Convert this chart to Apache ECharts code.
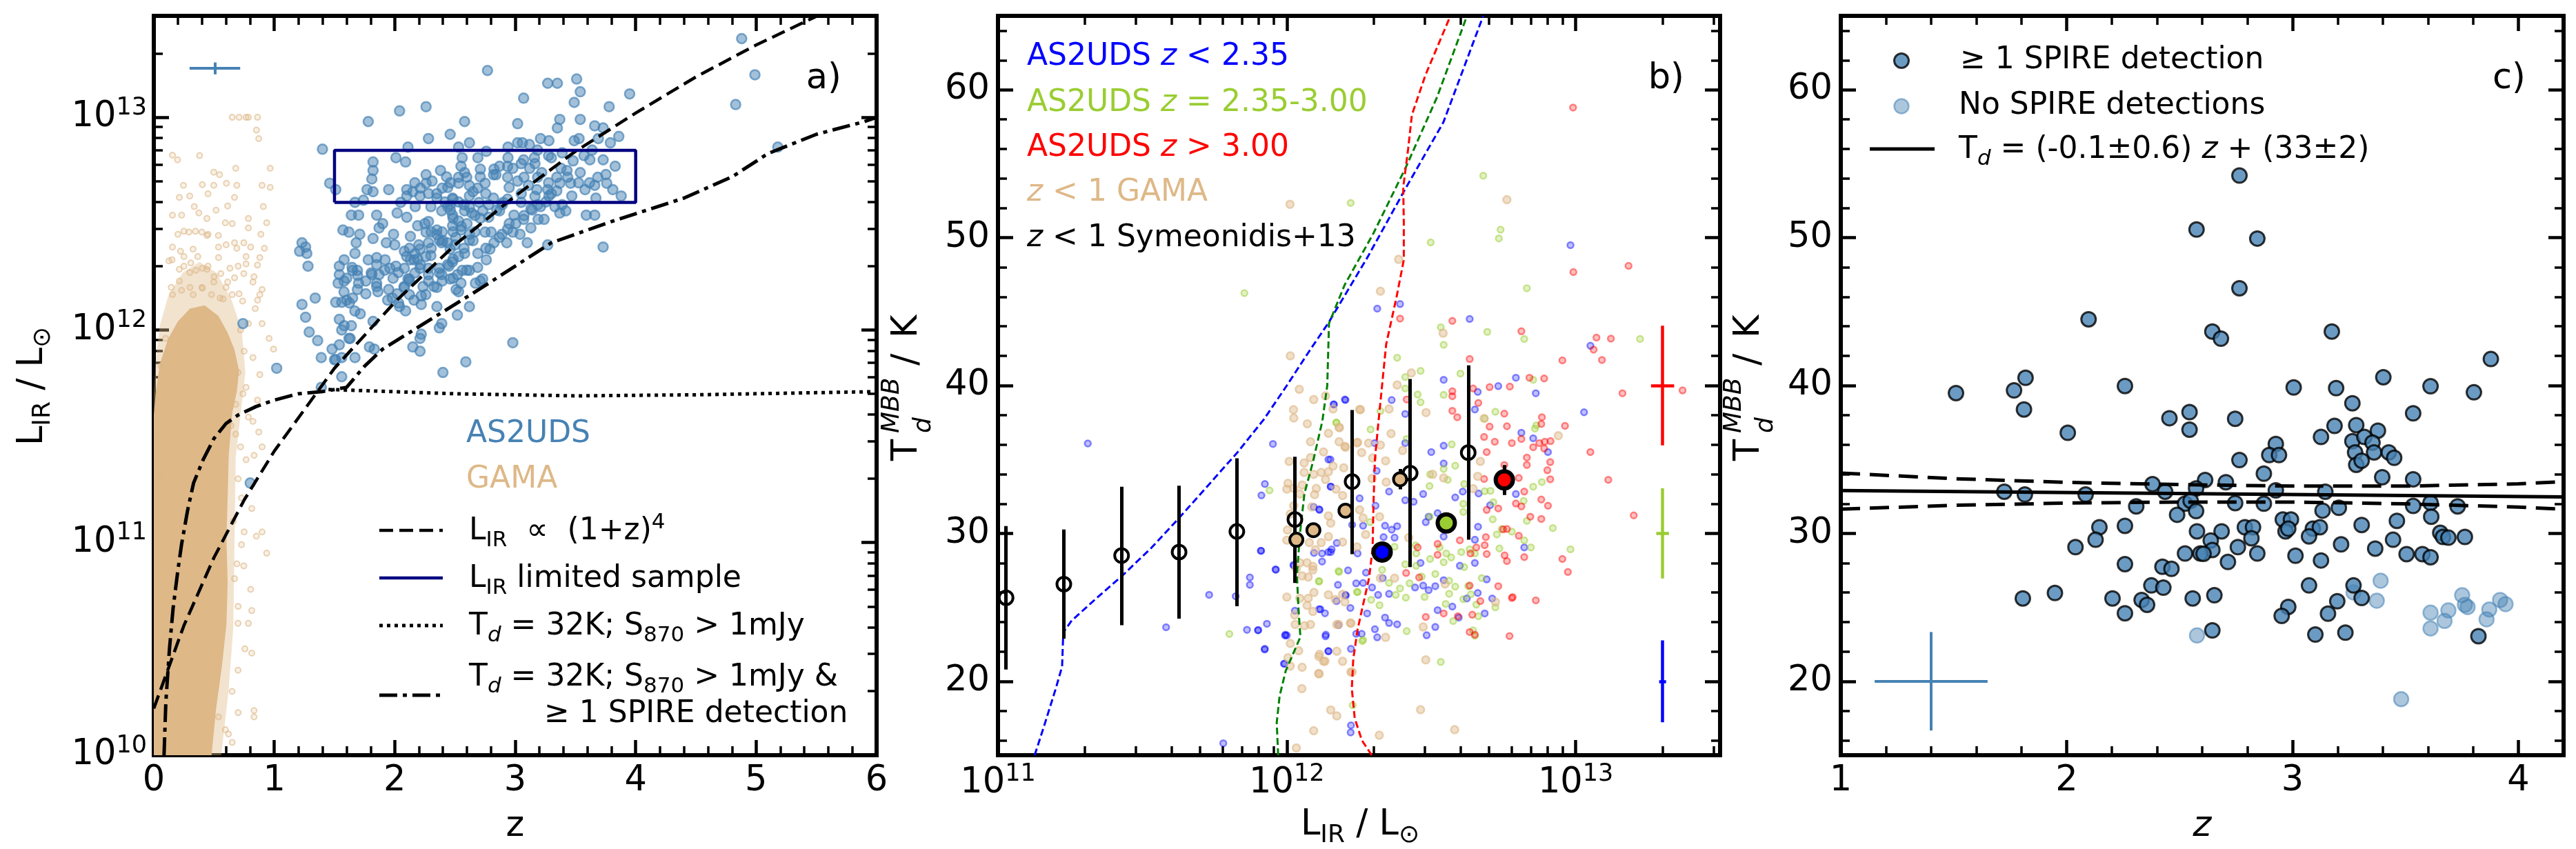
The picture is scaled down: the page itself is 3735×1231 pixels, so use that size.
<!DOCTYPE html>
<html>
<head>
<meta charset="utf-8">
<script src="https://cdn.jsdelivr.net/npm/echarts@6.0.0/dist/echarts.min.js"></script>
<style>
html, body { margin: 0; padding: 0; background: #fff; }
#chart { width: 3735px; height: 1231px; }
</style>
</head>
<body>
<div id="chart"></div>
<script>
const FONT = 'DejaVu Sans';
const STEEL = '#4682b4';
const TAN = '#deb887';
const NAVY = '#000080';
const YGREEN = '#9acd32';

// ---------------- panel a : z vs log10(L_IR) ----------------
const as2udsPts = [
[2.77,13.22],[3.27,13.16],[3.35,13.16],[3.51,13.18],[3.54,13.12],[3.49,13.07],[3.07,13.09],[3.95,13.11],[3.78,13.05],[2.26,13.05],
[2.04,13.03],[1.78,12.98],[2.58,12.98],[3.02,12.97],[3.37,12.99],[3.54,12.99],[3.35,12.95],[3.66,12.96],[3.73,12.95],[3.86,12.91],
[3.79,12.88],[2.46,12.92],[2.28,12.9],[2.62,12.88],[2.11,12.86],[1.4,12.85],[2.53,12.86],[2.94,12.86],[3.02,12.88],[3.06,12.88],
[3.21,12.9],[3.28,12.89],[3.49,12.89],[3.53,12.9],[3.69,12.9],[2.76,12.84],[2.69,12.81],[1.82,12.79],[2.01,12.81],[2.09,12.79],
[2.56,12.81],[2.55,12.77],[2.94,12.81],[3.07,12.8],[3.16,12.81],[3.3,12.81],[3.62,12.8],[3.73,12.8],[3.83,12.77],[1.82,12.75],
[1.81,12.71],[2.38,12.75],[2.26,12.73],[2.43,12.72],[2.58,12.74],[2.71,12.72],[2.84,12.73],[2.98,12.76],[3.12,12.76],[3.22,12.74],
[3.38,12.76],[3.54,12.74],[3.43,12.75],[1.46,12.69],[1.51,12.66],[1.77,12.66],[1.82,12.65],[1.95,12.66],[2.1,12.66],[2.15,12.65],
[2.26,12.69],[2.31,12.7],[2.44,12.67],[2.53,12.69],[2.65,12.65],[2.75,12.69],[2.82,12.73],[2.87,12.77],[2.95,12.67],[3.02,12.7],
[3.11,12.68],[3.18,12.66],[3.27,12.66],[3.37,12.69],[3.46,12.69],[3.58,12.66],[3.66,12.68],[3.76,12.69],[3.81,12.66],[3.88,12.63],
[3.67,12.62],[3.47,12.63],[3.28,12.63],[2.1,12.63],[2.21,12.63],[2.35,12.62],[2.48,12.62],[2.62,12.63],[2.82,12.62],[1.67,12.6],
[1.74,12.61],[2.17,12.58],[2.3,12.58],[2.44,12.58],[2.58,12.56],[2.73,12.56],[2.87,12.56],[3.13,12.57],[3.21,12.58],[3.33,12.58],
[3.42,12.56],[3.37,12.55],[3.59,12.54],[3.66,12.54],[1.64,12.54],[1.7,12.54],[1.85,12.54],[2.02,12.55],[2.1,12.53],[2.28,12.51],
[2.39,12.56],[2.48,12.54],[2.64,12.55],[2.78,12.53],[2.99,12.54],[3.07,12.52],[3.19,12.52],[3.24,12.52],[1.57,12.47],[1.62,12.46],
[1.71,12.45],[1.87,12.48],[1.82,12.43],[1.99,12.45],[2.13,12.44],[2.19,12.49],[2.26,12.46],[2.35,12.47],[2.48,12.49],[2.55,12.47],
[2.62,12.45],[2.75,12.46],[2.8,12.46],[2.89,12.45],[2.98,12.46],[3.04,12.45],[3.13,12.48],[2.93,12.41],[3.1,12.41],[3.27,12.4],
[3.73,12.39],[1.23,12.41],[1.26,12.39],[1.21,12.37],[1.27,12.36],[1.28,12.3],[1.68,12.41],[1.93,12.41],[2.08,12.37],[2.13,12.33],
[2.21,12.38],[2.28,12.41],[2.39,12.41],[2.46,12.38],[2.58,12.36],[2.69,12.36],[2.79,12.38],[2.76,12.33],[1.58,12.33],[1.67,12.36],
[1.78,12.33],[1.85,12.34],[1.92,12.33],[2.01,12.3],[2.08,12.29],[2.16,12.33],[2.21,12.29],[2.28,12.29],[2.37,12.29],[2.48,12.32],
[2.62,12.28],[1.54,12.3],[1.65,12.28],[1.69,12.28],[1.54,12.26],[1.81,12.26],[1.87,12.26],[1.96,12.29],[2.03,12.27],[2.11,12.24],
[2.28,12.26],[2.39,12.26],[2.46,12.24],[2.52,12.26],[2.56,12.28],[1.53,12.22],[1.58,12.23],[1.7,12.22],[1.85,12.22],[1.86,12.18],
[1.69,12.19],[1.76,12.17],[1.95,12.19],[2.02,12.17],[2.08,12.2],[2.12,12.24],[2.55,12.22],[2.51,12.19],[2.67,12.22],[2.71,12.23],
[2.73,12.24],[1.51,12.13],[1.56,12.13],[1.6,12.14],[1.65,12.15],[1.23,12.12],[1.34,12.15],[1.98,12.15],[2.04,12.11],[2.09,12.09],
[2.16,12.14],[2.22,12.12],[2.22,12.16],[2.35,12.11],[2.53,12.18],[2.62,12.11],[2.52,12.07],[1.26,12.06],[1.29,11.99],[1.36,11.95],
[1.54,12.05],[1.58,12.02],[1.64,12.02],[1.56,12.0],[1.82,12.04],[1.62,11.96],[1.54,11.93],[1.48,11.91],[1.5,11.86],[1.39,11.87],
[1.67,11.87],[1.56,11.87],[1.79,11.92],[1.83,11.91],[2.15,11.92],[2.21,11.9],[2.22,11.98],[2.21,11.96],[2.37,12.01],[2.39,12.03],
[2.98,11.94],[2.59,11.85],[2.4,11.8],[1.56,11.78],[1.02,11.82],[1.39,11.73],[1.63,11.96],[1.51,11.86],[4.88,13.37],[4.99,13.2],
[4.83,13.06],[5.18,12.86],[0.8,11.28],[0.74,12.03],[2.4,12.42],[2.5,12.4],[2.3,12.35],[2.45,12.3],[2.35,12.2],[2.25,12.5],
[2.6,12.5],[2.7,12.6],[2.9,12.6],[3.05,12.6],[2.2,12.4],[2.0,12.4],[1.9,12.5],[2.05,12.6],[2.95,12.5],[2.65,12.42],
[2.462,12.564],[2.484,12.525],[2.53,12.512],[2.552,12.487],[2.484,12.461],[2.507,12.435],[2.439,12.41],[2.371,12.422],[2.303,12.384],[2.258,12.345],
[2.19,12.333],[2.167,12.358],[2.122,12.384],[2.099,12.345],[2.213,12.307],[2.303,12.461],[2.349,12.448],[2.394,12.461],[2.462,12.589],[2.416,12.602],
[2.484,12.615],[2.53,12.602],[2.575,12.589],[2.62,12.577],[2.666,12.538],[2.711,12.525],[2.666,12.461],[2.62,12.422],[2.575,12.384],[2.53,12.345],
[2.484,12.333],[2.439,12.307],[2.371,12.268],[2.281,12.23],[2.235,12.204],[2.167,12.268],[2.122,12.23],[2.077,12.204],[1.986,12.243],[1.918,12.281],
[1.85,12.307],[1.805,12.268],[1.76,12.23],[1.692,12.256],[1.646,12.294],[1.601,12.243],[1.579,12.179],[1.624,12.127],[1.669,12.089],[1.714,12.076],
[1.85,12.204],[1.941,12.14],[2.032,12.127],[2.122,12.166],[2.258,12.166],[2.326,12.204],[2.394,12.23],[2.484,12.243],[2.598,12.281],[2.688,12.294],
[2.756,12.384],[2.824,12.41],[2.869,12.435],[2.937,12.474],[3.005,12.5],[3.073,12.538],[3.141,12.564],[3.186,12.589],[3.254,12.602],[3.3,12.641],
[3.345,12.654],[3.39,12.589],[3.164,12.628],[3.05,12.641],[2.937,12.615],[2.892,12.589],[2.847,12.564],[2.779,12.589],[2.756,12.641],[2.688,12.667],
[2.62,12.679],[2.598,12.718],[2.53,12.718],[2.462,12.692],[2.394,12.667],[2.349,12.641],[2.281,12.641],[2.213,12.667],[2.167,12.692],[2.937,12.718],
[3.073,12.718],[3.186,12.718],[3.277,12.692],[3.345,12.718],[3.436,12.718],[3.526,12.692],[3.617,12.692],[3.685,12.718],[3.753,12.731],[3.164,12.782],
[3.05,12.782],[2.937,12.769],[2.824,12.756],[2.711,12.756],[3.118,12.872],[3.186,12.846],[3.277,12.82],[3.39,12.833],[3.481,12.795],[3.571,12.82],
[3.639,12.846]
];
const gamaFringe = [
[0.651,13.0],[0.708,13.0],[0.766,13.0],[0.785,13.0],[0.861,13.0],[0.852,12.94],[0.871,12.9],[0.197,12.8],[0.38,12.82],[0.966,12.76],
[0.68,12.76],[0.546,12.73],[0.246,12.68],[0.498,12.68],[0.603,12.69],[0.689,12.68],[0.899,12.68],[0.966,12.67],[0.298,12.63],[0.45,12.64],
[0.909,12.58],[0.336,12.58],[0.155,12.54],[0.231,12.54],[0.374,12.55],[0.651,12.5],[0.785,12.48],[0.889,12.45],[0.292,12.46],[0.399,12.46],
[0.537,12.39],[0.67,12.41],[0.155,12.39],[0.222,12.37],[0.326,12.38],[0.747,12.41],[0.804,12.39],[0.88,12.34],[0.151,12.33],[0.537,12.34],
[0.632,12.29],[0.766,12.31],[0.832,12.25],[0.298,12.27],[0.403,12.29],[0.212,12.23],[0.145,12.2],[0.899,12.19],[0.861,12.14],[0.708,12.17],
[0.994,11.91],[0.957,11.96],[0.098,11.96],[0.059,11.83],[0.861,11.67],[0.823,11.57],[0.871,11.52],[0.899,11.45],[0.832,11.41],[0.766,11.39],
[0.813,11.16],[0.852,11.03],[0.899,11.05],[0.937,10.95],[0.747,10.89],[0.804,10.78],[0.813,10.68],[0.785,10.62],[0.699,10.62],[0.813,10.48],
[0.756,10.5],[0.699,10.4],[0.832,10.21],[0.832,10.18],[0.651,10.06],[0.594,10.12],[0.537,10.18],[0.67,10.83],[0.728,10.99],[0.728,11.21],
[0.68,11.51],[0.785,11.59],[0.766,11.73],[0.88,11.79],[0.823,11.87],[0.899,12.03],[0.842,12.1],[0.785,12.03],[0.04,11.51],[0.05,11.31],
[0.5,12.25],[0.45,12.3],[0.35,12.28],[0.6,12.2],[0.55,12.15],[0.25,12.3],[0.4,12.2],[0.3,12.2],[0.7,12.3],[0.45,12.45],
[0.6,12.4],[0.2,12.45],[0.72,12.0],[0.75,11.9],[0.7,11.8],
[0.126,12.325],[0.212,12.285],[0.25,12.345],[0.307,12.315],[0.365,12.345],[0.441,12.285],[0.498,12.225],[0.556,12.265],[0.613,12.225],[0.67,12.245],
[0.747,12.265],[0.823,12.225],[0.88,12.166],[0.155,12.166],[0.231,12.186],[0.327,12.166],[0.403,12.196],[0.479,12.166],[0.575,12.146],[0.651,12.166],
[0.737,12.136],[0.536,12.444],[0.594,12.504],[0.441,12.444],[0.346,12.464],[0.25,12.464],[0.689,12.384],[0.766,12.345],[0.861,12.305],[0.918,12.384],
[0.613,12.583],[0.517,12.563],[0.441,12.524],[0.785,12.524],[0.67,12.623],[0.212,12.623],[0.403,12.683],[0.498,12.742],[0.155,12.822],[0.937,12.504],
[0.65,10.3],[0.7,10.7],[0.66,11.1],[0.7,11.3],[0.72,11.45],[0.68,11.65],[0.74,11.7],[0.62,10.1],[0.69,10.9],[0.75,11.05],
[0.64,11.55],[0.7,10.2]
];
// outline of the saturated GAMA cloud and of its halo
const gamaCore = [
[0,10],[0.479,10],[0.517,10.218],[0.565,10.417],[0.603,10.615],[0.613,10.814],[0.603,11.013],[0.613,11.212],[0.622,11.41],[0.651,11.609],
[0.689,11.709],[0.708,11.808],[0.67,11.907],[0.613,11.987],[0.536,12.066],[0.422,12.116],[0.3,12.1],[0.2,12.04],[0.12,11.96],[0.05,11.84],
[0.015,11.7],[0,11.6]
];
const gamaHaze = [
[0,10],[0.56,10],[0.62,10.3],[0.66,10.6],[0.67,11.0],[0.68,11.4],[0.72,11.6],[0.76,11.8],[0.73,12.0],[0.64,12.15],
[0.52,12.27],[0.38,12.32],[0.24,12.27],[0.12,12.16],[0.05,12.02],[0.015,11.85],[0,11.7]
];
const evolZ    = [0, 0.25, 0.5, 0.75, 1, 1.5, 2, 2.5, 3, 3.5, 4, 4.5, 5, 5.5, 5.6];
const evolLogL = [10.22, 10.61, 10.93, 11.2, 11.43, 11.82, 12.13, 12.4, 12.63, 12.84, 13.02, 13.19, 13.34, 13.475, 13.5];
const spireZ    = [0.085, 0.1, 0.13, 0.16, 0.2, 0.23, 0.28, 0.33, 0.41, 0.5, 0.6, 0.7, 0.85, 1.0, 1.2, 1.4, 1.6, 1.75, 1.9, 2.3, 2.67, 3.0, 3.3, 3.8, 4.4, 4.8, 5.1, 5.5, 5.9, 6.0];
const spireLogL = [10.0, 10.25, 10.5, 10.69, 10.87, 10.99, 11.15, 11.28, 11.39, 11.49, 11.56, 11.6, 11.64, 11.67, 11.7, 11.71, 11.73, 11.83, 11.91, 12.05, 12.18, 12.3, 12.41, 12.51, 12.62, 12.72, 12.83, 12.92, 12.98, 13.0];
const flatZ    = [1.45, 2.5, 3.5, 4.5, 5.5, 6.0];
const flatLogL = [11.72, 11.70, 11.69, 11.695, 11.705, 11.71];
const boxZ    = [1.5, 4.0];
const boxLogL = [12.6, 12.845];
const crossA  = [0.507, 13.23, 0.21, 0.028];   // z, logL, dz, dlogL

// ---------------- panel b : log10(L_IR) vs Td ----------------
const bLowPts = [
[12.313,45.2],[12.392,45.51],[12.633,44.5],[13.051,42.69],[13.029,38.19],[12.543,40.39],[12.732,39.96],[12.793,40.53],[12.862,39.48],[12.661,39.57],
[12.651,38.38],[12.363,39.02],[12.203,39.02],[12.162,38.73],[11.952,36.05],[11.924,33.34],[11.912,32.57],[12.151,35.0],[12.152,33.16],[12.113,31.59],
[12.304,36.11],[12.311,34.23],[12.41,38.08],[12.41,36.11],[12.543,35.93],[12.5,35.5],[12.543,34.73],[12.812,36.81],[12.853,36.43],[12.904,35.5],
[12.664,32.7],[12.609,32.83],[12.583,32.43],[12.793,32.66],[12.704,31.91],[12.472,32.66],[12.439,32.14],[12.41,32.24],[12.354,32.83],[12.307,31.87],
[12.252,32.37],[12.264,30.52],[12.226,30.58],[12.34,30.52],[12.363,30.25],[12.382,30.49],[12.335,29.75],[12.373,29.71],[12.481,30.76],[12.522,31.37],
[12.491,31.13],[12.543,29.79],[12.662,30.45],[12.651,29.57],[12.822,29.05],[12.155,28.92],[12.122,28.64],[12.094,28.68],[12.245,28.64],[11.91,28.83],
[11.962,27.54],[11.872,27.02],[11.872,26.52],[12.023,27.87],[12.212,27.5],[12.274,27.35],[12.203,25.84],[12.24,26.62],[12.264,26.65],[12.295,26.34],
[12.316,25.84],[12.332,26.98],[12.354,25.91],[12.444,26.34],[12.463,28.0],[12.472,26.47],[12.491,26.16],[12.514,26.43],[12.543,26.84],[12.599,27.81],
[12.651,28.0],[12.692,26.89],[12.661,25.97],[12.623,25.6],[12.711,25.6],[12.685,24.59],[12.595,24.31],[12.573,25.05],[12.522,24.81],[12.514,23.67],
[12.484,23.11],[12.382,23.85],[12.354,23.94],[12.34,24.31],[12.305,23.52],[12.313,22.97],[12.259,23.21],[12.24,23.21],[12.222,22.19],[12.22,24.96],
[12.278,24.59],[12.172,25.42],[12.135,23.15],[12.144,22.04],[11.995,23.15],[11.931,23.89],[11.9,23.44],[11.862,23.48],[11.924,22.19],[11.99,21.18],
[12.028,24.77],[12.116,24.87],[11.311,36.08],[11.731,25.85],[11.823,25.75],[11.582,23.65],[11.901,23.47],[11.994,23.09],[11.923,22.15],[11.992,21.19],
[11.78,15.81],[12.024,27.82],[12.112,31.63],[12.152,33.17],[12.144,35.0],[12.163,38.72],[12.201,39.05],[12.144,28.74],[12.152,28.74],[12.122,28.1],
[12.177,26.52],[12.132,24.6],[12.112,24.88],[12.134,23.04],[12.144,22.03],[12.179,23.79],[12.222,17.02],[12.173,29.35],[12.093,31.79],[12.204,25.8],
[11.911,28.82],[11.961,27.57],[12.982,49.49],[12.221,16.54],[12.0,23.1]
];
const bMidPts = [
[11.853,46.25],[12.831,46.58],[12.533,43.94],[12.543,42.75],[12.694,43.63],[12.822,43.15],[13.223,43.15],[12.382,41.88],[12.463,40.99],[12.601,40.81],
[12.41,40.57],[12.853,40.39],[12.543,39.37],[12.463,38.87],[12.453,39.39],[12.324,38.27],[12.172,37.49],[12.29,37.03],[12.41,39.8],[12.722,38.23],
[12.685,37.77],[12.864,37.31],[12.859,37.09],[12.415,36.39],[12.571,36.02],[12.583,34.58],[12.543,34.36],[12.496,33.99],[12.494,33.2],[12.557,33.62],
[12.614,33.34],[12.685,32.85],[12.705,32.88],[12.82,32.2],[12.853,33.16],[12.883,33.47],[12.715,32.11],[12.611,32.0],[12.611,31.45],[12.713,30.95],
[12.744,30.3],[12.921,30.36],[12.982,28.92],[12.822,29.53],[12.845,29.05],[12.779,30.12],[12.727,29.93],[12.604,28.74],[12.651,28.64],[12.633,28.92],
[12.569,28.37],[12.552,28.64],[12.529,29.05],[12.496,28.27],[12.448,28.64],[12.448,27.81],[12.41,27.91],[12.425,26.62],[12.467,27.08],[12.514,27.26],
[12.562,26.8],[12.583,26.4],[12.628,26.43],[12.675,26.98],[12.543,28.05],[12.614,27.72],[12.637,25.88],[12.611,25.55],[12.722,25.0],[12.656,25.18],
[12.562,25.92],[12.477,25.7],[12.412,25.66],[12.377,25.84],[12.392,26.28],[12.354,26.65],[12.33,27.54],[12.344,28.61],[12.55,25.23],[12.576,24.07],
[12.663,24.4],[12.645,23.44],[12.651,23.08],[12.533,21.31],[12.415,23.39],[12.321,25.14],[12.264,22.8],[12.292,25.51],[12.245,26.03],[12.179,27.45],
[12.111,26.76],[12.446,29.19],[12.373,29.1],[12.288,30.76],[12.495,31.13],[12.736,28.98],[12.831,30.85],[11.94,32.91],[11.801,23.2],[12.181,27.4],
[12.243,26.04],[12.261,22.72],[12.228,18.38],[12.112,26.76],[12.171,37.49],[12.68,54.19],[12.221,52.35],[12.74,50.54],[12.734,49.95],[12.498,49.68]
];
const bHighPts = [
[12.992,47.67],[13.183,48.09],[12.392,44.53],[12.573,44.37],[12.812,43.67],[13.072,43.24],[13.122,43.17],[13.062,42.43],[13.091,41.73],[12.954,41.7],
[12.633,41.79],[12.84,40.53],[12.891,40.48],[12.772,39.93],[12.702,39.89],[12.573,39.61],[12.573,39.28],[12.645,39.8],[12.663,38.82],[13.162,39.48],
[12.415,39.06],[12.573,38.29],[12.59,37.86],[12.753,38.1],[12.883,37.86],[12.881,37.4],[12.963,37.27],[12.702,37.22],[12.762,37.25],[12.812,36.39],
[12.683,36.52],[12.72,36.2],[12.779,36.11],[12.874,36.11],[12.893,36.2],[12.913,36.24],[12.853,35.83],[12.891,35.74],[12.831,35.13],[12.912,34.82],
[12.831,34.63],[12.902,34.27],[13.051,35.5],[13.113,33.62],[12.912,33.66],[12.803,33.75],[12.753,34.63],[12.692,35.5],[12.683,33.68],[12.822,32.83],
[12.793,32.02],[12.812,31.83],[12.881,32.29],[12.904,31.87],[12.692,31.59],[12.732,31.69],[12.843,31.13],[12.881,30.98],[13.201,31.22],[12.749,30.27],
[12.762,30.3],[12.803,29.84],[12.689,29.75],[12.685,29.2],[12.656,29.05],[12.599,29.53],[12.522,29.29],[12.522,28.55],[12.453,29.05],[12.636,28.64],
[12.692,28.61],[12.754,28.51],[12.822,28.4],[12.762,28.13],[12.954,28.27],[12.973,27.39],[12.413,27.32],[12.458,27.02],[12.732,26.43],[12.633,26.47],
[12.782,25.69],[12.862,25.47],[12.67,25.42],[12.481,24.35],[12.543,24.59],[12.592,24.4],[12.642,24.5],[12.633,23.33],[12.651,23.15],[12.771,23.06],
[12.991,58.8],[13.37,39.67],[12.779,25.63]
];
const bGamaPts = [
[12.043,39.74],[12.093,39.05],[12.134,39.3],[12.023,38.37],[12.024,37.81],[12.071,37.41],[12.16,38.42],[12.181,37.17],[12.144,36.77],[12.082,36.2],
[12.127,35.51],[12.181,36.2],[12.201,35.88],[12.243,36.12],[12.255,38.37],[12.008,34.87],[12.06,34.76],[12.082,35.13],[12.06,34.12],[12.093,34.0],
[12.119,34.12],[12.144,34.17],[12.134,33.64],[12.16,34.55],[12.197,34.44],[12.004,33.39],[12.0,32.99],[12.024,33.04],[12.053,33.27],[12.102,33.04],
[12.045,32.67],[12.096,32.62],[12.17,32.99],[12.193,32.56],[12.024,31.87],[12.086,31.79],[12.144,31.18],[12.152,30.7],[12.012,31.31],[12.002,30.23],
[12.0,29.54],[12.078,29.38],[12.099,28.9],[12.119,29.38],[12.144,29.78],[12.193,29.41],[12.243,29.09],[12.07,28.01],[12.09,27.77],[12.045,28.01],
[12.033,27.61],[12.053,27.13],[12.074,27.05],[12.09,27.53],[12.0,25.69],[12.045,25.61],[12.074,25.61],[12.094,26.01],[12.144,25.85],[12.168,25.53],
[12.201,25.37],[12.07,25.13],[12.027,24.48],[12.09,24.72],[12.029,23.84],[12.082,23.84],[12.061,23.76],[12.173,23.84],[12.222,23.92],[12.012,22.56],
[12.041,22.07],[12.004,21.59],[12.012,21.03],[12.053,20.95],[12.111,21.67],[12.127,21.35],[12.173,22.03],[12.193,21.35],[12.226,20.63],[12.112,20.5],
[12.052,19.5],[12.152,18.06],[12.173,17.66],[12.093,16.66],[12.033,15.49],[12.324,46.38],[12.012,42.01],[12.252,38.38],[12.354,38.41],[12.382,40.04],
[12.431,40.85],[12.482,38.17],[12.541,43.54],[12.683,37.77],[12.94,36.61],[12.361,36.75],[12.182,37.16],[12.203,35.83],[12.245,36.16],[12.283,36.11],
[12.324,35.98],[12.401,35.61],[12.342,34.91],[12.297,35.1],[12.259,35.46],[12.344,33.47],[12.295,33.71],[12.264,31.04],[12.252,31.59],[12.273,29.93],
[12.321,31.13],[12.422,29.71],[12.543,33.75],[12.505,33.99],[12.645,33.03],[12.67,34.87],[12.661,33.86],[12.548,26.58],[12.472,23.67],[12.481,21.45],
[12.722,25.36],[12.373,26.98],[12.342,22.97],[12.324,26.98],[12.193,25.88],[12.22,23.94],[12.179,23.85],[12.222,20.62],[12.113,21.82],[12.132,21.36],
[12.11,20.53],[12.463,18.08],[12.581,16.73],[12.32,16.35],[12.011,52.26],[12.762,52.57],[12.387,48.53]
];
const blueLim = [[11.127,15],[11.16,17],[11.2,19.5],[11.222,21],[11.226,23.3],[11.255,24.1],[11.34,25.6],[11.428,27.1],[11.53,29],[11.625,31],
[11.73,33.3],[11.83,35.5],[11.92,37.7],[12.0,40],[12.07,42.1],[12.146,44.3],[12.28,48.7],[12.413,53.4],[12.542,57.8],[12.68,65]];
const greenLim = [[11.97,15],[11.965,17.2],[11.975,19.0],[11.996,20.7],[12.047,23.0],[12.04,25],[12.035,27.2],[12.045,29.9],[12.061,32.7],[12.09,34.8],
[12.123,37.6],[12.14,40],[12.146,44.2],[12.2,46.8],[12.3,50.3],[12.413,54.8],[12.52,59.5],[12.62,64.8]];
const redLim = [[12.294,15],[12.26,16],[12.235,17.5],[12.225,19.5],[12.23,21.5],[12.245,23.5],[12.262,25],[12.285,27],[12.297,29],[12.3,32],
[12.305,35],[12.316,37.3],[12.344,42.8],[12.38,46],[12.405,48.5],[12.405,51],[12.403,53.4],[12.42,56],[12.433,58.3],[12.48,61],[12.562,64.8]];
const symLogL = [11.028, 11.228, 11.428, 11.627, 11.827, 12.028, 12.226, 12.427, 12.628];
const symT    = [25.65, 26.57, 28.5, 28.74, 30.13, 30.94, 33.5, 34.08, 35.46];
const symTlo  = [20.8, 22.88, 23.79, 24.24, 25.08, 26.65, 28.6, 27.72, 29.57];
const symThi  = [30.5, 30.26, 33.15, 33.23, 35.08, 35.19, 38.35, 40.44, 41.36];
const gamaMedLogL = [12.033, 12.092, 12.203, 12.392];
const gamaMedT    = [29.57, 30.22, 31.54, 33.66];
const medLogL   = [12.33, 12.552, 12.753];
const medT      = [28.74, 30.71, 33.62];
const medColors = ['#0000ff', YGREEN, '#ff0000'];
const medRedErr = [32.6, 34.63];
const gamaMedErr = [32.98, 34.36];
const errLogL   = 13.301;
const errT      = [40, 30, 20];
const errDT     = [4.05, 3.05, 2.77];
const errDL     = [0.04, 0.022, 0.012];
const errColors = ['#ff0000', YGREEN, '#0000ff'];

// ---------------- panel c : z vs Td ----------------
const spireDet = [
[2.765,54.2],[2.575,50.55],[2.844,49.94],[2.765,46.58],[2.097,44.48],[2.645,43.65],[2.683,43.17],[3.174,43.65],[3.878,41.79],[1.818,40.52],
[1.51,39.49],[1.767,39.67],[2.258,39.97],[3.005,39.87],[3.193,39.82],[3.402,40.56],[3.611,39.95],[3.803,39.54],[1.811,38.38],[3.265,38.8],
[2.544,38.2],[2.455,37.79],[2.746,37.75],[3.534,38.12],[2.005,36.8],[2.544,37.02],[3.186,37.27],[3.282,37.32],[3.126,36.52],[3.378,36.95],
[3.265,36.23],[3.318,36.52],[3.354,36.14],[2.926,36.05],[3.277,35.48],[3.361,35.48],[3.426,35.48],[3.45,35.11],[2.897,35.3],[2.94,35.3],
[2.765,34.96],[3.282,34.64],[3.306,34.92],[2.873,34.04],[3.397,33.8],[3.534,33.66],[2.38,33.33],[2.613,33.61],[2.705,33.46],[2.573,33.04],
[2.436,32.82],[1.724,32.82],[1.815,32.63],[2.084,32.63],[2.926,32.91],[3.145,32.82],[2.308,31.83],[2.524,32.01],[2.549,32.2],[2.573,31.51],
[2.489,31.26],[2.746,32.05],[2.873,32.01],[3.133,31.54],[3.205,31.73],[3.534,31.86],[3.611,32.07],[3.731,31.83],[3.614,31.13],[2.957,30.94],
[2.993,30.94],[3.462,30.85],[3.306,30.57],[2.145,30.42],[2.258,30.51],[2.789,30.42],[2.825,30.42],[2.969,30.14],[2.981,30.32],[3.09,30.32],
[3.121,30.42],[3.073,29.8],[2.577,30.14],[2.686,30.14],[3.654,30.04],[3.666,29.76],[3.69,29.71],[3.763,29.76],[2.128,29.57],[2.039,29.07],
[2.638,29.52],[2.818,29.67],[3.445,29.57],[3.215,29.26],[2.758,29.07],[2.645,28.88],[3.366,28.97],[2.524,28.64],[2.592,28.64],[2.606,28.62],
[2.844,28.64],[3.013,28.49],[3.505,28.6],[3.575,28.6],[3.611,28.39],[2.714,28.07],[3.126,28.17],[2.258,27.92],[2.424,27.74],[2.464,27.6],
[3.073,26.48],[3.27,26.48],[2.375,26.48],[2.428,26.33],[1.948,25.97],[1.806,25.6],[2.203,25.6],[2.332,25.5],[2.356,25.17],[2.558,25.6],
[2.654,25.82],[3.306,25.63],[3.198,25.41],[2.981,25.03],[2.952,24.42],[3.157,24.57],[2.258,24.6],[2.645,23.44],[3.101,23.16],[3.234,23.29],
[3.823,23.05]
];
const spireNon = [
[3.39,26.8],[3.373,25.45],[3.27,26.01],[3.611,24.64],[3.69,24.79],[3.673,24.08],[3.611,23.57],[3.751,25.82],[3.763,25.17],[3.775,25.02],
[3.871,24.85],[3.859,24.19],[3.919,25.5],[3.943,25.22],[2.577,23.1],[3.481,18.79]
];
const fitZ   = [1, 4.2];
const fitT   = [32.9, 32.47];
const bandZ  = [1, 1.5, 2, 2.5, 3, 3.5, 4, 4.2];
const bandHi = [34.08, 33.7, 33.45, 33.3, 33.2, 33.2, 33.35, 33.5];
const bandLo = [31.64, 31.9, 32.05, 32.12, 32.12, 32.0, 31.78, 31.64];
const crossC = [1.40, 20, 0.25, 3.33];   // z, Td, dz, dTd

// ---------------- axis ticks ----------------
const zTicksA   = [0, 1, 2, 3, 4, 5, 6];
const lirTicksA = [1e10, 1e11, 1e12, 1e13];
const lirTicksB = [1e11, 1e12, 1e13];
const tdTicks   = [20, 30, 40, 50, 60];
const zTicksC   = [1, 2, 3, 4];

function linMinors(lo, hi, step, majors) {
  const out = [];
  for (let i = Math.ceil(lo / step - 1e-9); i * step <= hi + 1e-9; i++) {
    const v = +(i * step).toFixed(4);
    if (v > lo && v < hi && majors.indexOf(v) < 0) out.push(v);
  }
  return out;
}
function logMinors(e0, e1, max) {
  const out = [];
  for (let e = e0; e <= e1; e++) for (let m = 2; m <= 9; m++) {
    const v = m * Math.pow(10, e);
    if (v < max) out.push(v);
  }
  return out;
}

const pw = v => Math.pow(10, v);
const toLogY = p => [p[0], pw(p[1])];
const toLogX = p => [pw(p[0]), p[1]];

const linLabel = { formatter: v => String(v), margin: 12 };
const logRich = {
  b: { fontSize: 51, fontFamily: FONT, color: '#000', lineHeight: 62 },
  s: { fontSize: 35, fontFamily: FONT, color: '#000', lineHeight: 36, verticalAlign: 'top' }
};
const logLabel = { formatter: v => '{b|10}{s|' + Math.round(Math.log10(v)) + '}', rich: logRich, margin: 10 };

function oneAxis(grid, pos, type, min, max, ticks, len, width, spine, label) {
  const a = {
    type: type, gridIndex: grid, position: pos, min: min, max: max,
    axisLine: { show: spine, onZero: false, lineStyle: { color: '#000', width: 6, cap: 'square' } },
    axisTick: { show: true, inside: true, length: len, customValues: ticks, lineStyle: { color: '#000', width: width } },
    axisLabel: { show: false },
    splitLine: { show: false },
    minorTick: { show: false },
    axisPointer: { show: false }
  };
  if (type === 'log') a.logBase = 10;
  if (label) {
    a.axisLabel = Object.assign({ show: true, customValues: ticks, color: '#000', fontFamily: FONT, fontSize: 51 }, label);
  }
  return a;
}
function axisSet(grid, pMain, pMirror, type, min, max, majors, minors, label) {
  return [
    oneAxis(grid, pMain, type, min, max, majors, 22, 4.5, true, label),
    oneAxis(grid, pMain, type, min, max, minors, 13, 3.5, false, null),
    oneAxis(grid, pMirror, type, min, max, majors, 22, 4.5, true, null),
    oneAxis(grid, pMirror, type, min, max, minors, 13, 3.5, false, null)
  ];
}

const xAxes = [].concat(
  axisSet(0, 'bottom', 'top', 'value', 0, 6, zTicksA, linMinors(0, 6, 0.2, zTicksA), linLabel),
  axisSet(1, 'bottom', 'top', 'log', 1e11, pw(13.5), lirTicksB, logMinors(11, 13, pw(13.5)), logLabel),
  axisSet(2, 'bottom', 'top', 'value', 1, 4.2, zTicksC, linMinors(1, 4.2, 0.2, zTicksC), linLabel)
);
const yAxes = [].concat(
  axisSet(0, 'left', 'right', 'log', 1e10, 3e13, lirTicksA, logMinors(10, 13, 3e13), logLabel),
  axisSet(1, 'left', 'right', 'value', 15, 65, tdTicks, linMinors(15, 65, 2, tdTicks), linLabel),
  axisSet(2, 'left', 'right', 'value', 15, 65, tdTicks, linMinors(15, 65, 2, tdTicks), linLabel)
);

// ---------------- series helpers ----------------
function scatter(ax, data, size, fill, border, bw, extra) {
  return Object.assign({
    type: 'scatter', xAxisIndex: ax, yAxisIndex: ax, data: data, symbol: 'circle', symbolSize: size,
    itemStyle: { color: fill, borderColor: border, borderWidth: bw, opacity: 1 },
    emphasis: { disabled: true }, silent: true
  }, extra || {});
}
function curve(ax, data, color, width, dash, extra) {
  return Object.assign({
    type: 'line', xAxisIndex: ax, yAxisIndex: ax, data: data, showSymbol: false, symbol: 'none',
    lineStyle: { color: color, width: width, type: dash || 'solid', cap: 'butt' },
    emphasis: { disabled: true }, silent: true, z: 4
  }, extra || {});
}
function segs(ax, items, width, z) {
  return {
    type: 'lines', coordinateSystem: 'cartesian2d', xAxisIndex: ax, yAxisIndex: ax,
    data: items.map(it => ({ coords: it.c, lineStyle: { color: it.color, width: width, opacity: 1 } })),
    lineStyle: { width: width, opacity: 1, curveness: 0 }, silent: true, z: z || 4
  };
}
function polygon(ax, verts, color) {
  return {
    type: 'custom', xAxisIndex: ax, yAxisIndex: ax, clip: true, silent: true, z: 1,
    data: [toLogY(verts[0])],
    renderItem: (params, api) => ({
      type: 'polygon',
      shape: { points: verts.map(v => api.coord([v[0], pw(v[1])])) },
      style: { fill: color }
    })
  };
}

const series = [];
// panel a  (axes index 0)
series.push(polygon(0, gamaHaze, 'rgba(222,184,135,0.4)'));
series.push(polygon(0, gamaCore, TAN));
series.push(scatter(0, gamaFringe.map(toLogY), 8, 'rgba(222,184,135,0.2)', 'rgba(222,184,135,0.6)', 2, { z: 2 }));
series.push(scatter(0, as2udsPts.map(toLogY), 14, 'rgba(70,130,180,0.5)', 'rgba(70,130,180,0.68)', 2.5, { z: 3 }));
series.push(curve(0, evolZ.map((z, i) => [z, pw(evolLogL[i])]), '#000', 4.5, [20, 9]));
series.push(curve(0, flatZ.map((z, i) => [z, pw(flatLogL[i])]), '#000', 5, [5, 6]));
series.push(curve(0, spireZ.map((z, i) => [z, pw(spireLogL[i])]), '#000', 5, [26, 8, 6, 8]));
series.push(curve(0, [[boxZ[0], pw(boxLogL[0])], [boxZ[1], pw(boxLogL[0])], [boxZ[1], pw(boxLogL[1])], [boxZ[0], pw(boxLogL[1])], [boxZ[0], pw(boxLogL[0])]], NAVY, 4.5, 'solid'));
series.push(segs(0, [
  { c: [[crossA[0] - crossA[2], pw(crossA[1])], [crossA[0] + crossA[2], pw(crossA[1])]], color: STEEL },
  { c: [[crossA[0], pw(crossA[1] - crossA[3])], [crossA[0], pw(crossA[1] + crossA[3])]], color: STEEL }
], 4));

// panel b  (axes index 4)
series.push(scatter(4, bLowPts.map(toLogX), 9, 'rgba(0,0,255,0.25)', 'rgba(0,0,255,0.45)', 2.5, { z: 2 }));
series.push(scatter(4, bMidPts.map(toLogX), 9, 'rgba(154,205,50,0.28)', 'rgba(154,205,50,0.5)', 2.5, { z: 2 }));
series.push(scatter(4, bHighPts.map(toLogX), 9, 'rgba(255,0,0,0.25)', 'rgba(255,0,0,0.45)', 2.5, { z: 2 }));
series.push(scatter(4, bGamaPts.map(toLogX), 11, 'rgba(222,184,135,0.45)', 'rgba(222,184,135,0.6)', 2.5, { z: 2 }));
series.push(curve(4, blueLim.map(toLogX), '#0000ff', 3, [10, 5]));
series.push(curve(4, greenLim.map(toLogX), '#008000', 3, [10, 5]));
series.push(curve(4, redLim.map(toLogX), '#ff0000', 3, [10, 5]));
const bBars = symLogL.map((l, i) => ({ c: [[pw(l), symTlo[i]], [pw(l), symThi[i]]], color: '#000' }));
bBars.push({ c: [[pw(gamaMedLogL[3]), gamaMedErr[0]], [pw(gamaMedLogL[3]), gamaMedErr[1]]], color: '#000' });
bBars.push({ c: [[pw(medLogL[2]), medRedErr[0]], [pw(medLogL[2]), medRedErr[1]]], color: '#000' });
series.push(segs(4, bBars, 5, 5));
series.push(scatter(4, symLogL.map((l, i) => [pw(l), symT[i]]), 20, 'rgba(0,0,0,0)', '#000', 4, { z: 6 }));
series.push(scatter(4, gamaMedLogL.map((l, i) => [pw(l), gamaMedT[i]]), 19, TAN, '#000', 4, { z: 6 }));
medLogL.forEach((l, i) => series.push(scatter(4, [[pw(l), medT[i]]], 25, medColors[i], '#000', 6, { z: 7 })));
const bCross = [];
errT.forEach((t, i) => {
  bCross.push({ c: [[pw(errLogL - errDL[i]), t], [pw(errLogL + errDL[i]), t]], color: errColors[i] });
  bCross.push({ c: [[pw(errLogL), t - errDT[i]], [pw(errLogL), t + errDT[i]]], color: errColors[i] });
});
series.push(segs(4, bCross, 4.5, 5));

// panel c  (axes index 8)
series.push(scatter(8, spireNon, 21, 'rgba(70,130,180,0.45)', 'rgba(70,130,180,0.55)', 2.5, { z: 2 }));
series.push(scatter(8, spireDet, 21, 'rgba(70,130,180,0.8)', 'rgba(0,0,0,0.8)', 3, { z: 3 }));
series.push(curve(8, fitZ.map((z, i) => [z, fitT[i]]), '#000', 5, 'solid'));
series.push(curve(8, bandZ.map((z, i) => [z, bandHi[i]]), '#000', 5, [28, 14]));
series.push(curve(8, bandZ.map((z, i) => [z, bandLo[i]]), '#000', 5, [28, 14]));
series.push(segs(8, [
  { c: [[crossC[0] - crossC[2], crossC[1]], [crossC[0] + crossC[2], crossC[1]]], color: STEEL },
  { c: [[crossC[0], crossC[1] - crossC[3]], [crossC[0], crossC[1] + crossC[3]]], color: STEEL }
], 4));

// ---------------- texts, legends ----------------
function richSet(size, color) {
  const base = { fontSize: size, fontFamily: FONT, fill: color, lineHeight: Math.round(size * 1.3) };
  const small = { fontSize: Math.round(size * 0.7), fontFamily: FONT, fill: color, lineHeight: Math.round(size * 0.65) };
  return {
    n: base,
    i: Object.assign({}, base, { fontStyle: 'italic' }),
    sub: Object.assign({}, small, { verticalAlign: 'bottom' }),
    subi: Object.assign({}, small, { verticalAlign: 'bottom', fontStyle: 'italic' }),
    sup: Object.assign({}, small, { verticalAlign: 'top' })
  };
}
function label(x, y, text, size, color, align, rotation) {
  return {
    type: 'text', x: x, y: y, rotation: rotation || 0, silent: true, z: 100,
    style: { text: text, rich: richSet(size, color), fontSize: size, fontFamily: FONT, fill: color,
             align: align || 'left', verticalAlign: 'middle' }
  };
}
function part(x, y, text, size, italic) {
  return { type: 'text', x: x, y: y,
    style: { text: text, fontSize: size, fontFamily: FONT, fontStyle: italic ? 'italic' : 'normal', fill: '#000', align: 'left', verticalAlign: 'middle' } };
}
function tdTitle(cx, cy) {
  return { type: 'group', x: cx, y: cy, rotation: Math.PI / 2, silent: true, z: 100, children: [
    part(-108, 0, 'T', 51, false),
    part(-68, -22, 'MBB', 36, true),
    part(-68, 24, 'd', 36, true),
    part(30, 0, '/', 51, false),
    part(70, 0, 'K', 51, false)
  ] };
}
function legLine(x1, x2, y, color, width, dash) {
  return { type: 'line', silent: true, z: 100, shape: { x1: x1, y1: y, x2: x2, y2: y },
    style: { stroke: color, lineWidth: width, lineDash: dash || null, lineCap: 'butt' } };
}
const lirTitle = '{n|L}{sub|IR}{n| / L}{sub|⊙}';

const graphics = [
  // panel a
  label(48, 560, lirTitle, 51, '#000', 'center', Math.PI / 2),
  label(747, 1199, 'z', 51, '#000', 'center'),
  label(1220, 115, 'a)', 51, '#000', 'right'),
  label(676, 630, 'AS2UDS', 44, STEEL),
  label(676, 696, 'GAMA', 44, TAN),
  legLine(550, 642, 769, '#000', 4.5, [20, 9]),
  label(680, 771, '{n|L}{sub|IR}{n|  ∝  (1+z)}{sup|4}', 44, '#000'),
  legLine(550, 642, 838, NAVY, 4.5),
  label(680, 840, '{n|L}{sub|IR}{n| limited sample}', 44, '#000'),
  legLine(550, 642, 907, '#000', 5, [5, 6]),
  label(680, 909, '{n|T}{subi|d}{n| = 32K; S}{sub|870}{n| > 1mJy}', 44, '#000'),
  legLine(550, 642, 1008, '#000', 5, [26, 8, 6, 8]),
  label(680, 983, '{n|T}{subi|d}{n| = 32K; S}{sub|870}{n| > 1mJy &}', 44, '#000'),
  label(789, 1036, '≥ 1 SPIRE detection', 44, '#000'),
  // panel b
  tdTitle(1316, 560),
  label(1972, 1197, lirTitle, 51, '#000', 'center'),
  label(2442, 115, 'b)', 51, '#000', 'right'),
  label(1489, 83, '{n|AS2UDS }{i|z}{n| < 2.35}', 44, '#0000ff'),
  label(1489, 150, '{n|AS2UDS }{i|z}{n| = 2.35-3.00}', 44, YGREEN),
  label(1489, 215, '{n|AS2UDS }{i|z}{n| > 3.00}', 44, '#ff0000'),
  label(1489, 280, '{i|z}{n| < 1 GAMA}', 44, TAN),
  label(1489, 346, '{i|z}{n| < 1 Symeonidis+13}', 44, '#000'),
  // panel c
  tdTitle(2537, 560),
  label(3193, 1199, '{i|z}', 51, '#000', 'center'),
  label(3662, 115, 'c)', 51, '#000', 'right'),
  { type: 'circle', silent: true, z: 100, shape: { cx: 2757, cy: 88, r: 10.5 },
    style: { fill: 'rgba(70,130,180,0.8)', stroke: 'rgba(0,0,0,0.8)', lineWidth: 3 } },
  label(2842, 88, '≥ 1 SPIRE detection', 44, '#000'),
  { type: 'circle', silent: true, z: 100, shape: { cx: 2757, cy: 154, r: 10.5 },
    style: { fill: 'rgba(70,130,180,0.45)', stroke: 'rgba(70,130,180,0.55)', lineWidth: 2.5 } },
  label(2840, 154, 'No SPIRE detections', 44, '#000'),
  legLine(2711, 2805, 216, '#000', 5),
  label(2840, 218, '{n|T}{subi|d}{n| = (-0.1±0.6) }{i|z}{n| + (33±2)}', 44, '#000')
];

const chart = echarts.init(document.getElementById('chart'), null, { renderer: 'canvas' });
chart.setOption({
  animation: false,
  backgroundColor: '#fff',
  textStyle: { fontFamily: FONT },
  grid: [
    { left: 223, top: 23, width: 1048, height: 1072 },
    { left: 1447, top: 23, width: 1047, height: 1072 },
    { left: 2669, top: 23, width: 1048, height: 1072 }
  ],
  xAxis: xAxes,
  yAxis: yAxes,
  series: series,
  graphic: graphics
});
</script>
</body>
</html>
